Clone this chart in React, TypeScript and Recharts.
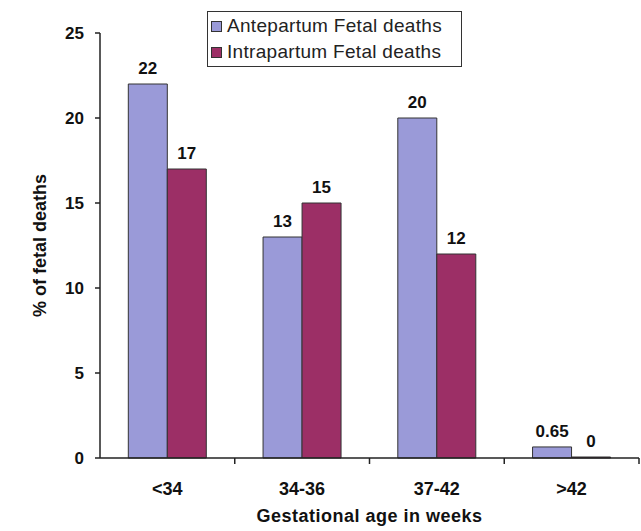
import { BarChart, Bar, XAxis, YAxis, Legend, LabelList } from "recharts";

const categories = ["<34", "34-36", "37-42", ">42"];
const antepartum = [22, 13, 20, 0.65];
const intrapartum = [17, 15, 12, 0];
const yTicks = [0, 5, 10, 15, 20, 25];

const data = categories.map((c, i) => ({
  age: c,
  ante: antepartum[i],
  intra: intrapartum[i],
}));

const W = 641;
const H = 531;
const MARGIN = { top: 33, right: 2, bottom: 0, left: 0 };
const Y_AXIS_W = 100;
const BAND = (W - MARGIN.left - MARGIN.right - Y_AXIS_W) / categories.length;
const FONT = "'Liberation Sans', Arial, sans-serif";
const LABEL_STYLE = { fontFamily: FONT, fontWeight: "bold", fontSize: 17, fill: "#111" };

function CategoryTick({ x, y, payload }: any) {
  return (
    <g>
      {/* Excel style: ticks between categories */}
      <line x1={x + BAND / 2} x2={x + BAND / 2} y1={y} y2={y + 6} stroke="#222" strokeWidth={1.5} />
      <text x={x} y={y + 37} textAnchor="middle" fontFamily={FONT} fontWeight="bold" fontSize={18} fill="#111">
        {payload.value}
      </text>
    </g>
  );
}

function LegendBox({ payload }: any) {
  return (
    <div
      style={{
        border: "1.5px solid #333",
        background: "#fff",
        width: 250,
        height: 53,
        paddingLeft: 3,
        paddingTop: 1,
        fontFamily: FONT,
        fontSize: 19,
        letterSpacing: 0.3,
        color: "#222",
      }}
    >
      {(payload || []).map((e: any) => (
        <div key={e.value} style={{ display: "flex", alignItems: "center", height: 26 }}>
          <span
            style={{
              display: "inline-block",
              width: 9,
              height: 9,
              background: e.color,
              border: "1px solid #333",
              marginRight: 5,
            }}
          />
          <span>{e.value}</span>
        </div>
      ))}
    </div>
  );
}

export default function App() {
  return (
    <div style={{ position: "absolute", left: 0, top: 0, background: "#fff" }}>
      <BarChart width={W} height={H} data={data} margin={MARGIN} barCategoryGap="21%" barGap={0}>
        <XAxis
          dataKey="age"
          height={H - 458}
          stroke="#222"
          strokeWidth={1.5}
          tickLine={false}
          tickSize={0}
          tickMargin={0}
          tick={<CategoryTick />}
          interval={0}
          label={{
            value: "Gestational age in weeks",
            position: "insideBottom",
            offset: 9,
            style: { fontFamily: FONT, fontWeight: "bold", fontSize: 18, letterSpacing: 0.5, fill: "#111" },
          }}
        />
        <YAxis
          width={Y_AXIS_W}
          domain={[0, 25]}
          ticks={yTicks}
          interval={0}
          stroke="#222"
          strokeWidth={1.5}
          tickSize={5}
          tickMargin={11}
          tick={{ fontFamily: FONT, fontWeight: "bold", fontSize: 17, fill: "#111" }}
          label={{
            value: "% of fetal deaths",
            angle: -90,
            position: "insideLeft",
            offset: 40,
            style: { textAnchor: "middle", fontFamily: FONT, fontWeight: "bold", fontSize: 18, fill: "#111" },
          }}
        />
        <Legend
          layout="vertical"
          align="center"
          verticalAlign="middle"
          wrapperStyle={{ left: 207, top: 11 }}
          content={<LegendBox />}
        />
        <Bar dataKey="ante" name="Antepartum Fetal deaths" fill="#9a9ad8" stroke="#333" strokeWidth={1} isAnimationActive={false}>
          <LabelList dataKey="ante" position="top" offset={10} style={LABEL_STYLE} />
        </Bar>
        <Bar
          dataKey="intra"
          name="Intrapartum Fetal deaths"
          fill="#9c2f66"
          stroke="#333"
          strokeWidth={1}
          minPointSize={1}
          isAnimationActive={false}
        >
          <LabelList dataKey="intra" position="top" offset={10} style={LABEL_STYLE} />
        </Bar>
      </BarChart>
    </div>
  );
}
